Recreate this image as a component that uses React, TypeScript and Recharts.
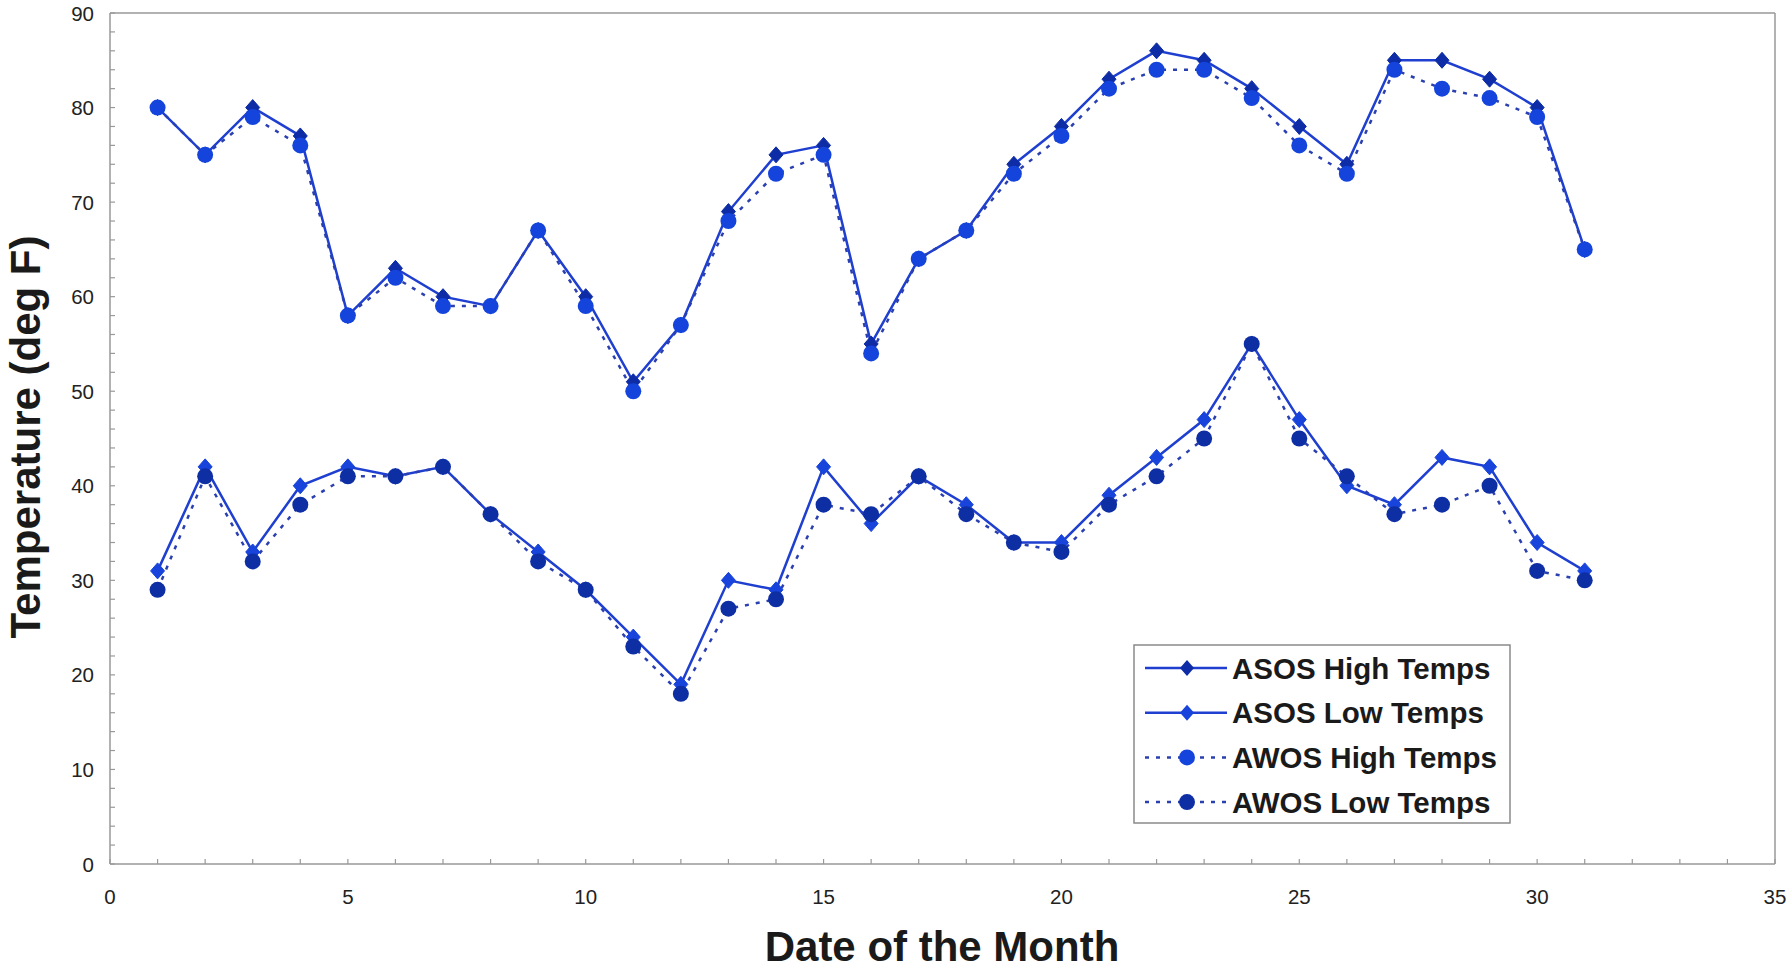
import { LineChart, Line, XAxis, YAxis, ReferenceLine, Legend } from "recharts";

const days = [
  1, 2, 3, 4, 5, 6, 7, 8, 9, 10, 11, 12, 13, 14, 15, 16, 17, 18, 19, 20, 21,
  22, 23, 24, 25, 26, 27, 28, 29, 30, 31,
];
const asosHigh = [
  80, 75, 80, 77, 58, 63, 60, 59, 67, 60, 51, 57, 69, 75, 76, 55, 64, 67, 74,
  78, 83, 86, 85, 82, 78, 74, 85, 85, 83, 80, 65,
];
const asosLow = [
  31, 42, 33, 40, 42, 41, 42, 37, 33, 29, 24, 19, 30, 29, 42, 36, 41, 38, 34,
  34, 39, 43, 47, 55, 47, 40, 38, 43, 42, 34, 31,
];
const awosHigh = [
  80, 75, 79, 76, 58, 62, 59, 59, 67, 59, 50, 57, 68, 73, 75, 54, 64, 67, 73,
  77, 82, 84, 84, 81, 76, 73, 84, 82, 81, 79, 65,
];
const awosLow = [
  29, 41, 32, 38, 41, 41, 42, 37, 32, 29, 23, 18, 27, 28, 38, 37, 41, 37, 34,
  33, 38, 41, 45, 55, 45, 41, 37, 38, 40, 31, 30,
];

const xTicks: number[] = [];
for (let i = 0; i <= 35; i++) xTicks.push(i);
const yTicks: number[] = [];
for (let i = 0; i <= 90; i += 2) yTicks.push(i);

const rows = days.map((d, i) => ({
  day: d,
  asosHigh: asosHigh[i],
  asosLow: asosLow[i],
  awosHigh: awosHigh[i],
  awosLow: awosLow[i],
}));

const FONT = "'Liberation Sans', Arial, Helvetica, sans-serif";
const AXIS = "#999999";
const LINE = "#1e3fcf";
const DOTLINE = "#2a3fb0";
const DIAMOND_HI = "#0d2ca6";
const DIAMOND_LO = "#1844dc";
const CIRCLE_HI = "#1444dc";
const CIRCLE_LO = "#0e2ea4";

const Diamond = (color: string) => (props: any) => {
  const { cx, cy, index } = props;
  if (cx == null || cy == null) return <g key={index} />;
  const w = 7;
  const h = 8;
  return (
    <polygon
      key={index}
      points={`${cx},${cy - h} ${cx + w},${cy} ${cx},${cy + h} ${cx - w},${cy}`}
      fill={color}
      stroke={color}
    />
  );
};

const YTick = ({ x, y, payload }: any) => {
  const v = payload.value;
  return (
    <g>
      <line x1={x} x2={x + 5} y1={y} y2={y} stroke={AXIS} strokeWidth={1.2} />
      {v % 10 === 0 && (
        <text
          x={x - 16}
          y={y}
          textAnchor="end"
          dominantBaseline="central"
          fontSize={20.5}
          fontFamily={FONT}
          fill="#222"
        >
          {v}
        </text>
      )}
    </g>
  );
};

const XTick = ({ x, y, payload }: any) => {
  const v = payload.value;
  return (
    <g>
      <line x1={x} x2={x} y1={y} y2={y - 5} stroke={AXIS} strokeWidth={1.2} />
      {v % 5 === 0 && (
        <text
          x={x}
          y={y + 32}
          textAnchor="middle"
          dominantBaseline="central"
          fontSize={20.5}
          fontFamily={FONT}
          fill="#222"
        >
          {v}
        </text>
      )}
    </g>
  );
};

const legendItems = [
  { label: "ASOS High Temps", dashed: false, color: DIAMOND_HI },
  { label: "ASOS Low Temps", dashed: false, color: DIAMOND_LO },
  { label: "AWOS High Temps", dashed: true, color: CIRCLE_HI },
  { label: "AWOS Low Temps", dashed: true, color: CIRCLE_LO },
];

function LegendBox() {
  return (
    <svg width={378} height={180}>
      <rect x={1} y={1} width={376} height={178} fill="#fff" stroke="#8a8a8a" strokeWidth={1.5} />
      {legendItems.map((it, i) => {
        const cy = 24 + i * 44.7;
        return (
          <g key={it.label}>
            <line
              x1={12}
              x2={94}
              y1={cy}
              y2={cy}
              stroke={it.dashed ? DOTLINE : LINE}
              strokeWidth={2.5}
              strokeDasharray={it.dashed ? "4 7" : undefined}
            />
            {it.dashed ? (
              <circle cx={54} cy={cy} r={8} fill={it.color} />
            ) : (
              <polygon
                points={`54,${cy - 8} 61,${cy} 54,${cy + 8} 47,${cy}`}
                fill={it.color}
              />
            )}
            <text
              x={99}
              y={cy}
              dominantBaseline="central"
              fontSize={29.5}
              fontWeight="bold"
              fontFamily={FONT}
              fill="#1a1a1a"
            >
              {it.label}
            </text>
          </g>
        );
      })}
    </svg>
  );
}

export default function App() {
  return (
    <div style={{ position: "absolute", left: 0, top: 0, background: "#fff" }}>
      <LineChart
        width={1789}
        height={969}
        data={rows}
        margin={{ top: 13, right: 14, bottom: 0, left: 0 }}
      >
        <XAxis
          dataKey="day"
          type="number"
          domain={[0, 35]}
          ticks={xTicks}
          interval={0}
          tickSize={0}
          tickMargin={0}
          tickLine={false}
          tick={<XTick />}
          height={105}
          stroke={AXIS}
          strokeWidth={1.5}
          label={{
            content: () => (
              <text
                x={942}
                y={961}
                textAnchor="middle"
                fontSize={42}
                fontWeight="bold"
                fontFamily={FONT}
                fill="#1a1a1a"
              >
                Date of the Month
              </text>
            ),
          }}
        />
        <YAxis
          type="number"
          domain={[0, 90]}
          ticks={yTicks}
          interval={0}
          tickSize={0}
          tickMargin={0}
          tickLine={false}
          tick={<YTick />}
          width={110}
          stroke={AXIS}
          strokeWidth={1.5}
          label={{
            content: () => (
              <text
                x={25}
                y={437}
                transform="rotate(-90, 25, 437)"
                textAnchor="middle"
                dominantBaseline="central"
                fontSize={42}
                fontWeight="bold"
                fontFamily={FONT}
                fill="#1a1a1a"
              >
                Temperature (deg F)
              </text>
            ),
          }}
        />
        <ReferenceLine y={90} stroke={AXIS} strokeWidth={1.5} />
        <ReferenceLine x={35} stroke={AXIS} strokeWidth={1.5} />
        <Line
          dataKey="asosHigh"
          stroke={LINE}
          strokeWidth={2.5}
          dot={Diamond(DIAMOND_HI)}
          isAnimationActive={false}
        />
        <Line
          dataKey="asosLow"
          stroke={LINE}
          strokeWidth={2.5}
          dot={Diamond(DIAMOND_LO)}
          isAnimationActive={false}
        />
        <Line
          dataKey="awosHigh"
          stroke={DOTLINE}
          strokeWidth={2.5}
          strokeDasharray="4 7"
          dot={{ r: 8, fill: CIRCLE_HI, stroke: CIRCLE_HI, strokeWidth: 0 }}
          isAnimationActive={false}
        />
        <Line
          dataKey="awosLow"
          stroke={DOTLINE}
          strokeWidth={2.5}
          strokeDasharray="4 7"
          dot={{ r: 8, fill: CIRCLE_LO, stroke: CIRCLE_LO, strokeWidth: 0 }}
          isAnimationActive={false}
        />
        <Legend
          layout="vertical"
          align="center"
          verticalAlign="middle"
          content={() => <LegendBox />}
          wrapperStyle={{
            position: "absolute",
            left: 1133,
            top: 644,
            width: 378,
            height: 180,
            margin: 0,
          }}
        />
      </LineChart>
    </div>
  );
}
